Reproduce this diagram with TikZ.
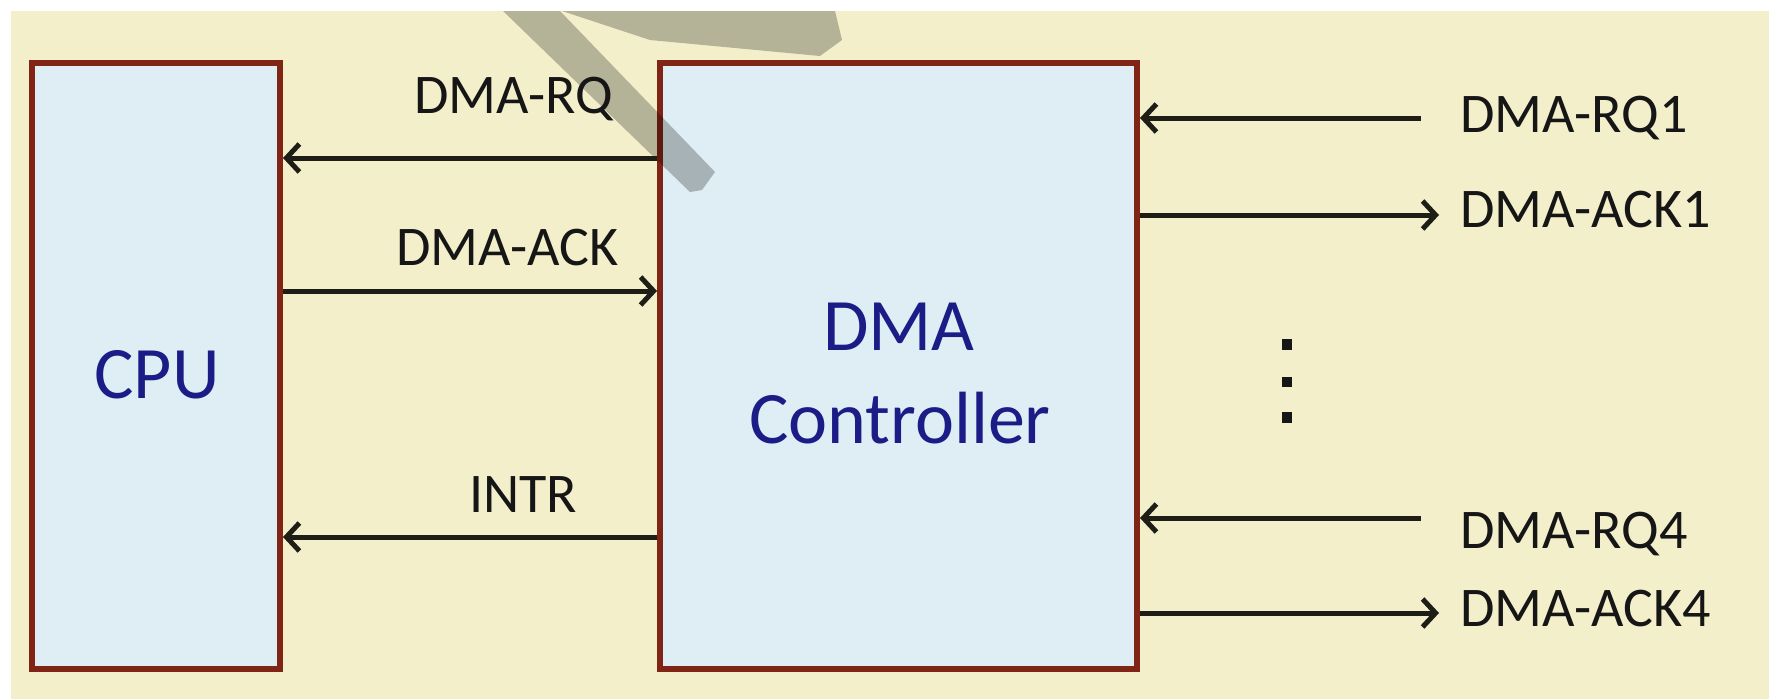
\documentclass[tikz,border=0pt]{standalone}
\usepackage{fontspec}
\setmainfont{Carlito}
\usetikzlibrary{arrows.meta}
\definecolor{bgbeige}{RGB}{242,239,202}
\definecolor{boxblue}{RGB}{223,238,245}
\definecolor{boxred}{RGB}{128,36,22}
\definecolor{arrowc}{RGB}{30,30,22}
\definecolor{navytext}{RGB}{28,28,135}
\definecolor{labelc}{RGB}{22,22,22}
\begin{document}
\begin{tikzpicture}[x=1pt,y=-1pt,
  blockbox/.style={draw=boxred, fill=boxblue, line width=6pt, minimum width=#1, minimum height=606pt, inner sep=0pt},
  conn/.style={draw=arrowc, line width=5pt, -{Straight Barb[length=13pt,width=28pt]}},
  siglabel/.style={font=\fontsize{56}{60}\selectfont, text=labelc, inner sep=0pt, anchor=base west},
  bigtext/.style={font=\fontsize{74}{80}\selectfont, text=navytext, inner sep=0pt, anchor=base},
  watermark/.style={fill=black, fill opacity=0.25}
]
\useasboundingbox (0,0) rectangle (1769,699);
\fill[white] (0,0) rectangle (1769,699);
\fill[bgbeige] (11,11) rectangle (1769,699);

% blocks
\node[blockbox=248pt] (cpu) at (156,366) {};
\node[blockbox=477pt] (dma) at (898.5,366) {};

% watermark
\fill[watermark] (503,11) -- (560,11) -- (715,172) -- (702,190) -- (690,192) -- cycle;
\fill[watermark] (562,11) -- (835,11) -- (842,40) -- (820,56) -- (650,40) -- cycle;

% texts in blocks
\node[bigtext] (cputext) at (157,398) {CPU};
\node[bigtext] (dmatext1) at (899,350) {DMA};
\node[bigtext] (dmatext2) at (900,443) {Controller};

% helper coordinates
\coordinate (yrq) at (0,158);
\coordinate (yack) at (0,291);
\coordinate (yintr) at (0,537);
\coordinate (rq1) at (1421,118);
\coordinate (ack1) at (1439,215);
\coordinate (rq4) at (1421,518);
\coordinate (ack4) at (1439,613);

% CPU <-> DMA connectors
\draw[conn] (dma.west |- yrq) -- (cpu.east |- yrq);
\draw[conn] (cpu.east |- yack) -- (dma.west |- yack);
\draw[conn] (dma.west |- yintr) -- (cpu.east |- yintr);

% right side connectors
\draw[conn] (rq1) -- (dma.east |- rq1);
\draw[conn] (dma.east |- ack1) -- (ack1);
\draw[conn] (rq4) -- (dma.east |- rq4);
\draw[conn] (dma.east |- ack4) -- (ack4);

% labels
\node[siglabel] (lrq) at (414,113) {DMA-RQ};
\node[siglabel] (lack) at (396,265) {DMA-ACK};
\node[siglabel] (lintr) at (469,512) {INTR};
\node[siglabel] (lrq1) at (1460,132) {DMA-RQ1};
\node[siglabel] (lack1) at (1460,227) {DMA-ACK1};
\node[siglabel] (lrq4) at (1460,548) {DMA-RQ4};
\node[siglabel] (lack4) at (1460,626) {DMA-ACK4};

% vertical dots
\fill[labelc] (1282,339) rectangle (1292,350);
\fill[labelc] (1282,377) rectangle (1292,387);
\fill[labelc] (1282,412) rectangle (1292,423);
\end{tikzpicture}
\end{document}
